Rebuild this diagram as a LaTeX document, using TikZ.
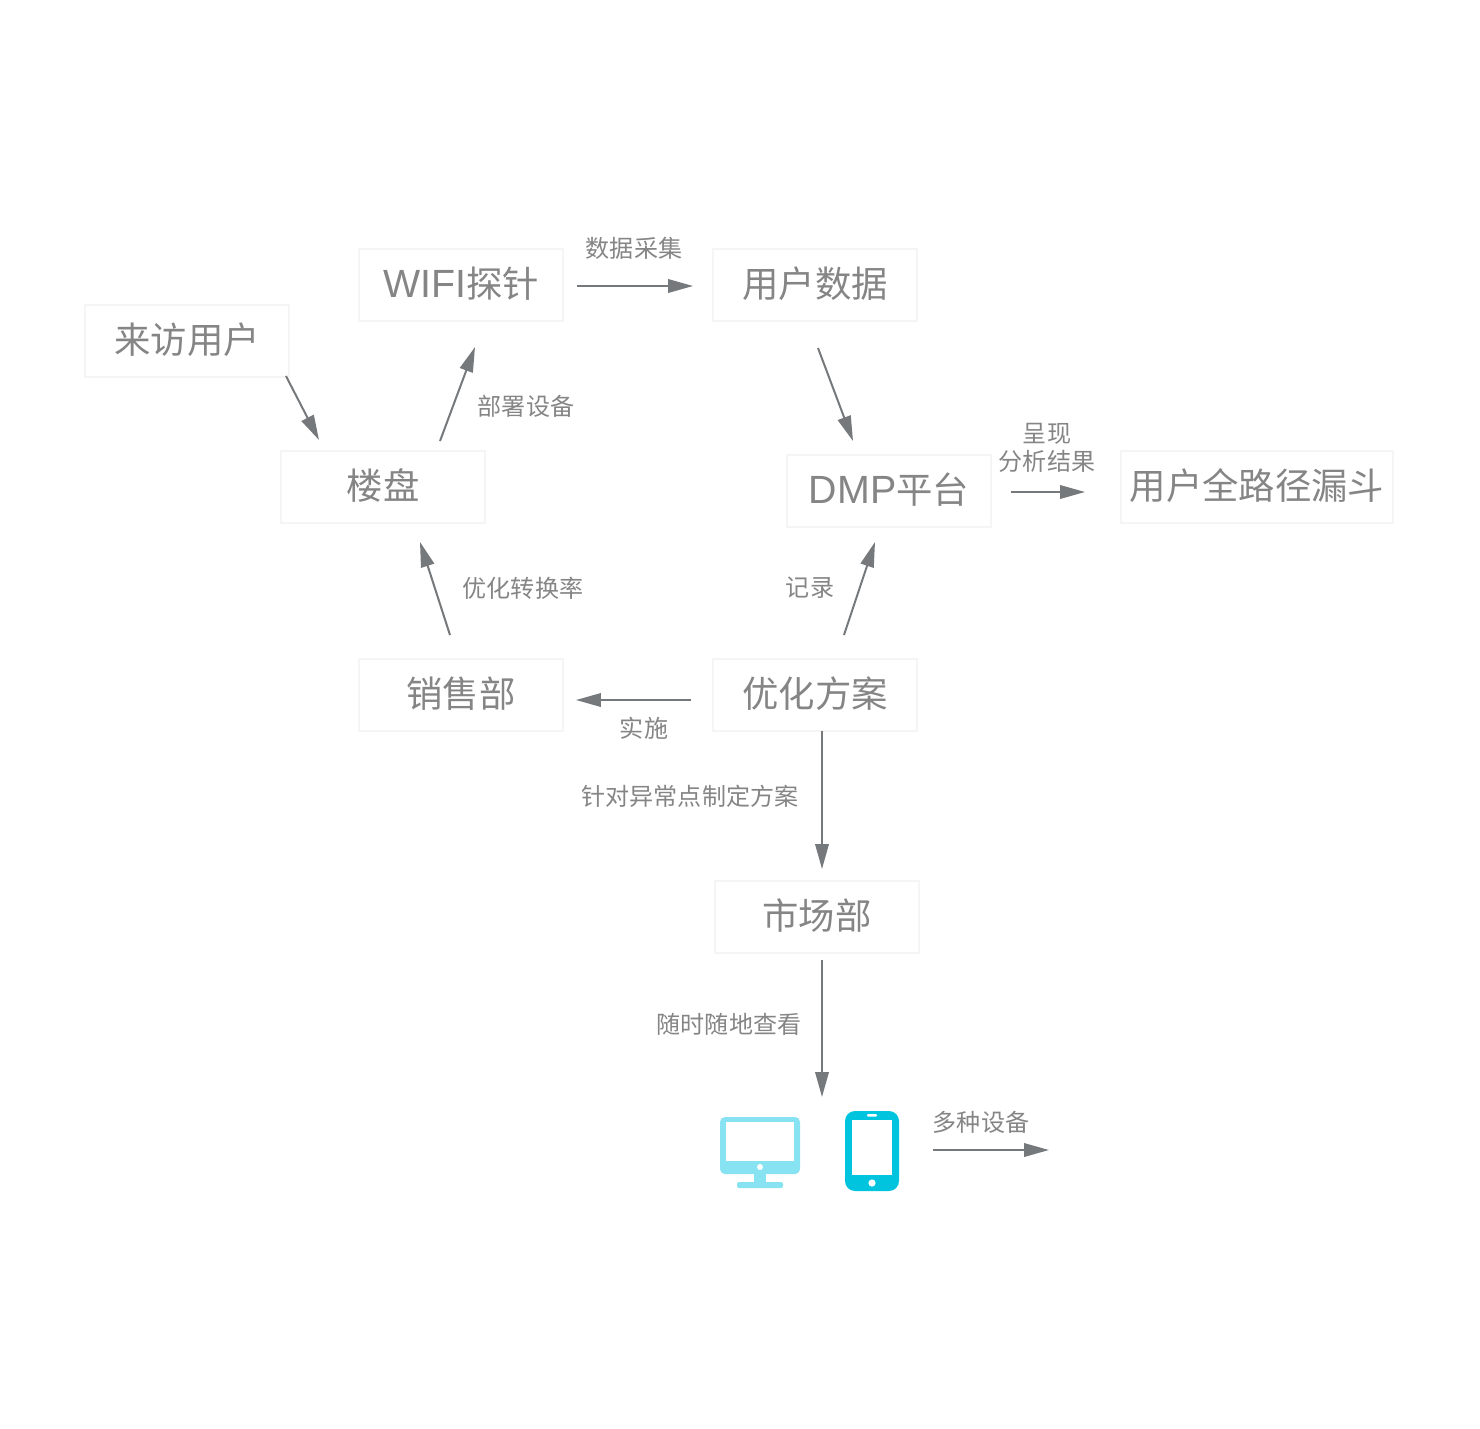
\documentclass[tikz,border=0pt]{standalone}
\usepackage{fontspec}
\setmainfont{Noto Sans CJK SC}
\newfontfamily\latinfont{Liberation Sans}
\usetikzlibrary{positioning,arrows.meta,calc}
\definecolor{linegray}{HTML}{75797C}
\definecolor{textgray}{HTML}{858585}
\definecolor{edgegray}{HTML}{F5F5F5}
\definecolor{screencyan}{HTML}{87E3F2}
\definecolor{phonecyan}{HTML}{00C4DE}
\newcommand{\latinword}[1]{{\latinfont\fontsize{22.4}{24}\selectfont #1}}
\begin{document}
\begin{tikzpicture}[
            x=0.02cm, y=-0.02cm,
            block/.style={rectangle, draw=edgegray, line width=0.055cm, fill=white, minimum width=4.08cm, minimum height=1.44cm, inner sep=0pt, outer sep=0pt, text=textgray, text height=0.6cm, text depth=0.1cm, font=\fontsize{20.7}{24}\selectfont},
            wideblock/.style={block, minimum width=5.44cm},
            tag/.style={text=textgray, inner sep=0pt, align=center, font=\fontsize{13.7}{16}\selectfont},
            arrow/.style={-{Triangle[length=0.5cm, width=0.27cm]}, line width=0.04cm, draw=linegray}
        ]
            \useasboundingbox (0,0) rectangle (1480,1428);
            \node[block] (visitor) at (187,341) {来访用户};
            \node[block] (wifi) at (461,285) {\latinword{WIFI}探针};
            \node[block] (userdata) at (815,285) {用户数据};
            \node[block] (estate) at (383,487) {楼盘};
            \node[block] (dmp) at (889,491) {\latinword{DMP}平台};
            \node[wideblock] (funnel) at (1257,487) {用户全路径漏斗};
            \node[block] (sales) at (461,695) {销售部};
            \node[block] (plan) at (815,695) {优化方案};
            \node[block] (market) at (817,917) {市场部};
            \node[tag] (tcollect) at (634,248) {数据采集};
            \node[tag] (tdeploy) at (526,406) {部署设备};
            \node[tag] (tshow) at (1047,448) {呈现\\分析结果};
            \node[tag] (trate) at (523,588) {优化转换率};
            \node[tag] (trecord) at (810,588) {记录};
            \node[tag] (tapply) at (644,728) {实施};
            \node[tag] (tpoint) at (690,796) {针对异常点制定方案};
            \node[tag] (tany) at (729,1024) {随时随地查看};
            \node[tag] (tdevice) at (981,1122) {多种设备};
            % devices
            \fill[screencyan, rounded corners=0.1cm] (720,1117) rectangle (800,1174);
            \fill[white] (726,1122) rectangle (794,1161);
            \fill[white] (760,1167) circle (3);
            \fill[screencyan] (754,1174) rectangle (766,1183);
            \fill[screencyan, rounded corners=0.04cm] (737,1182) rectangle (783,1188);
            \fill[phonecyan, rounded corners=0.2cm] (845,1111) rectangle (899,1191);
            \fill[white] (852,1120) rectangle (892,1175);
            \fill[white] (872,1183) circle (3.6);
            \fill[white, rounded corners=0.02cm] (867,1114) rectangle (877,1116.5);
            \coordinate (devices) at (822,1097);
            \coordinate (more) at (1049,1150);
            \coordinate (moreout) at (933,1150);
            \draw[arrow] ([shift={(-3,-1)}]visitor.south east) -- ([shift={(-64,-11)}]estate.north);
            \draw[arrow] ([shift={(57,-10)}]estate.north) -- ([shift={(14,26)}]wifi.south);
            \draw[arrow] ([shift={(14,1)}]wifi.east) -- ([shift={(-20,1)}]userdata.west);
            \draw[arrow] ([shift={(3,27)}]userdata.south) -- ([shift={(-36,-14)}]dmp.north);
            \draw[arrow] ([shift={(20,1)}]dmp.east) -- ([shift={(-36,5)}]funnel.west);
            \draw[arrow] ([shift={(29,-24)}]plan.north) -- ([shift={(-14,15)}]dmp.south);
            \draw[arrow] ([shift={(-22,5)}]plan.west) -- ([shift={(13,5)}]sales.east);
            \draw[arrow] ([shift={(-11,-24)}]sales.north) -- ([shift={(37,19)}]estate.south);
            \draw[arrow] ([xshift=7*0.02cm]plan.south) -- ([shift={(5,-12)}]market.north);
            \draw[arrow] ([shift={(5,7)}]market.south) -- (devices);
            \draw[arrow] (moreout) -- (more);
        \end{tikzpicture}
\end{document}
